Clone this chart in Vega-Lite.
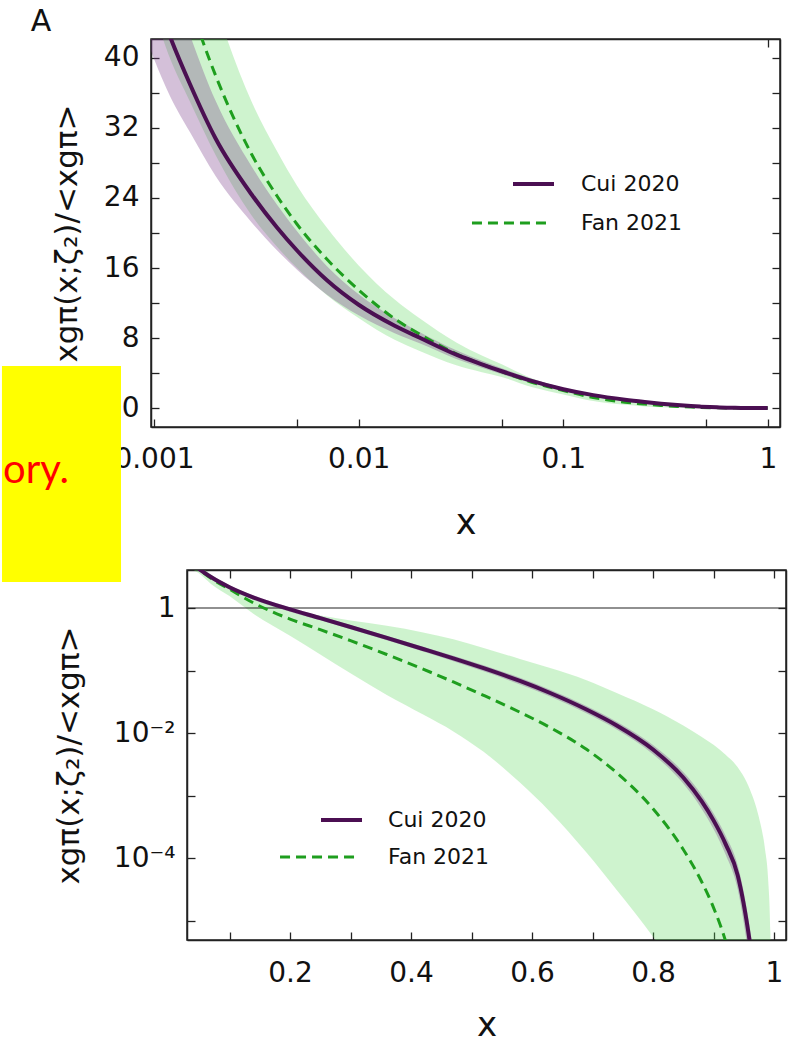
{
  "$schema": "https://vega.github.io/schema/vega-lite/v6.json",
  "padding": {"left": 0, "right": 0, "top": 6, "bottom": 0},
  "config": {
    "font": "DejaVu Sans",
    "view": {"stroke": "#222222", "strokeWidth": 1.5},
    "axis": {
      "grid": false,
      "domainColor": "#222222",
      "domainWidth": 1.5,
      "tickColor": "#222222",
      "tickWidth": 1.3,
      "tickSize": -8,
      "labelFont": "DejaVu Sans",
      "labelFontSize": 28,
      "labelColor": "#111111",
      "labelOverlap": false,
      "labelFlush": false,
      "titleFont": "DejaVu Sans",
      "titleFontWeight": "normal",
      "titleColor": "#111111"
    }
  },
  "datasets": {
    "curves": [
      {"x": 0.0009, "cui": 51, "cui_lo": 42.8, "cui_hi": 59.2, "fan": 63.5, "fan_lo": 48.3, "fan_hi": 76.8},
      {"x": 0.001, "cui": 47.5, "cui_lo": 39.9, "cui_hi": 55.1, "fan": 59.5, "fan_lo": 45.2, "fan_hi": 72},
      {"x": 0.0012, "cui": 42.4, "cui_lo": 35.6, "cui_hi": 49.2, "fan": 52.5, "fan_lo": 39.9, "fan_hi": 63.5},
      {"x": 0.0015, "cui": 37, "cui_lo": 31.5, "cui_hi": 42.6, "fan": 46, "fan_lo": 35, "fan_hi": 55.7},
      {"x": 0.002, "cui": 30.8, "cui_lo": 26.5, "cui_hi": 35.1, "fan": 38, "fan_lo": 28.9, "fan_hi": 46},
      {"x": 0.003, "cui": 24.4, "cui_lo": 21.2, "cui_hi": 27.6, "fan": 29, "fan_lo": 22, "fan_hi": 35},
      {"x": 0.004, "cui": 20.6, "cui_lo": 18, "cui_hi": 23.2, "fan": 24.2, "fan_lo": 18.4, "fan_hi": 29.3},
      {"x": 0.005, "cui": 18, "cui_lo": 15.8, "cui_hi": 20.2, "fan": 21, "fan_lo": 16, "fan_hi": 25.4},
      {"x": 0.007, "cui": 14.6, "cui_lo": 12.95, "cui_hi": 16.2, "fan": 17, "fan_lo": 12.9, "fan_hi": 20.6},
      {"x": 0.01, "cui": 11.8, "cui_lo": 10.6, "cui_hi": 13, "fan": 13.5, "fan_lo": 10.3, "fan_hi": 16.3},
      {"x": 0.015, "cui": 9.4, "cui_lo": 8.55, "cui_hi": 10.25, "fan": 10.2, "fan_lo": 7.8, "fan_hi": 12.4},
      {"x": 0.02, "cui": 8, "cui_lo": 7.36, "cui_hi": 8.64, "fan": 8.4, "fan_lo": 6.5, "fan_hi": 10.2},
      {"x": 0.03, "cui": 6.1, "cui_lo": 5.61, "cui_hi": 6.59, "fan": 6.2, "fan_lo": 4.9, "fan_hi": 7.5},
      {"x": 0.04, "cui": 5, "cui_lo": 4.6, "cui_hi": 5.4, "fan": 5, "fan_lo": 4.1, "fan_hi": 6},
      {"x": 0.05, "cui": 4.2, "cui_lo": 3.86, "cui_hi": 4.54, "fan": 4.15, "fan_lo": 3.55, "fan_hi": 5},
      {"x": 0.07, "cui": 3.1, "cui_lo": 2.85, "cui_hi": 3.35, "fan": 2.95, "fan_lo": 2.4, "fan_hi": 3.4},
      {"x": 0.1, "cui": 2.15, "cui_lo": 1.98, "cui_hi": 2.32, "fan": 2.0, "fan_lo": 1.55, "fan_hi": 2.3},
      {"x": 0.14, "cui": 1.47, "cui_lo": 1.35, "cui_hi": 1.59, "fan": 1.2, "fan_lo": 0.8, "fan_hi": 1.5},
      {"x": 0.2, "cui": 0.95, "cui_lo": 0.874, "cui_hi": 1.026, "fan": 0.665, "fan_lo": 0.359, "fan_hi": 0.94},
      {"x": 0.25, "cui": 0.689, "cui_lo": 0.634, "cui_hi": 0.744, "fan": 0.45, "fan_lo": 0.18, "fan_hi": 0.759},
      {"x": 0.3, "cui": 0.496, "cui_lo": 0.456, "cui_hi": 0.536, "fan": 0.3006, "fan_lo": 0.0902, "fan_hi": 0.631},
      {"x": 0.36, "cui": 0.332, "cui_lo": 0.305, "cui_hi": 0.359, "fan": 0.1803, "fan_lo": 0.0405, "fan_hi": 0.519},
      {"x": 0.42, "cui": 0.221, "cui_lo": 0.201, "cui_hi": 0.241, "fan": 0.1052, "fan_lo": 0.0197, "fan_hi": 0.407},
      {"x": 0.47, "cui": 0.1564, "cui_lo": 0.1408, "cui_hi": 0.172, "fan": 0.0656, "fan_lo": 0.0106, "fan_hi": 0.316},
      {"x": 0.52, "cui": 0.1089, "cui_lo": 0.0969, "cui_hi": 0.1209, "fan": 0.04, "fan_lo": 0.005, "fan_hi": 0.229},
      {"x": 0.58, "cui": 0.0681, "cui_lo": 0.0599, "cui_hi": 0.0763, "fan": 0.0215, "fan_lo": 0.00161, "fan_hi": 0.153},
      {"x": 0.63, "cui": 0.0437, "cui_lo": 0.0385, "cui_hi": 0.0494, "fan": 0.01222, "fan_lo": 0.000547, "fan_hi": 0.1096},
      {"x": 0.69, "cui": 0.0238, "cui_lo": 0.0207, "cui_hi": 0.0271, "fan": 0.00548, "fan_lo": 0.000123, "fan_hi": 0.07},
      {"x": 0.74, "cui": 0.01323, "cui_lo": 0.01138, "cui_hi": 0.01521, "fan": 0.00231, "fan_lo": 0.0000309, "fan_hi": 0.0437},
      {"x": 0.8, "cui": 0.00546, "cui_lo": 0.00459, "cui_hi": 0.00644, "fan": 0.000614, "fan_lo": 0.0000055, "fan_hi": 0.024},
      {"x": 0.85, "cui": 0.00194, "cui_lo": 0.00155, "cui_hi": 0.00237, "fan": 0.000137, "fan_lo": 0.000001, "fan_hi": 0.0132},
      {"x": 0.88, "cui": 0.000818, "cui_lo": 0.000622, "cui_hi": 0.00104, "fan": 0.0000425, "fan_lo": 1e-8, "fan_hi": 0.0087},
      {"x": 0.9, "cui": 0.0004, "cui_lo": 0.000292, "cui_hi": 0.00052, "fan": 0.0000161, "fan_lo": 1e-9, "fan_hi": 0.00646},
      {"x": 0.92, "cui": 0.000167, "cui_lo": 0.000114, "cui_hi": 0.000227, "fan": 0.00000466, "fan_lo": 1e-9, "fan_hi": 0.00447},
      {"x": 0.94, "cui": 0.0000528, "cui_lo": 0.0000317, "cui_hi": 0.0000766, "fan": 0.0000008, "fan_lo": 1e-9, "fan_hi": 0.00282},
      {"x": 0.96, "cui": 0.0000045, "cui_lo": 0.00000203, "cui_hi": 0.00000765, "fan": 3e-8, "fan_lo": 1e-9, "fan_hi": 0.00126},
      {"x": 0.975, "cui": 3e-7, "cui_lo": 1.5e-7, "cui_hi": 4.8e-7, "fan": 1e-9, "fan_lo": 1e-10, "fan_hi": 0.000447},
      {"x": 0.985, "cui": 1e-9, "cui_lo": 1e-9, "cui_hi": 1e-9, "fan": 1e-10, "fan_lo": 1e-10, "fan_hi": 0.000141},
      {"x": 0.99, "cui": 1e-10, "cui_lo": 1e-10, "cui_hi": 1e-10, "fan": 1e-11, "fan_lo": 1e-11, "fan_hi": 0.00005},
      {"x": 0.994, "cui": 1e-11, "cui_lo": 1e-11, "cui_hi": 1e-11, "fan": 1e-12, "fan_lo": 1e-12, "fan_hi": 0.0000063},
      {"x": 0.997, "cui": 1e-12, "cui_lo": 1e-12, "cui_hi": 1e-12, "fan": 1e-12, "fan_lo": 1e-12, "fan_hi": 1e-8}
    ],
    "gap": [{"label": ""}]
  },
  "concat": [
    {
      "spacing": 0,
      "hconcat": [
        {
          "width": 1,
          "height": 1,
          "view": {"stroke": null},
          "data": {"name": "gap"},
          "mark": {"type": "text", "fontSize": 1},
          "encoding": {"text": {"field": "label"}}
        },
        {
          "width": 629,
          "height": 388,
          "resolve": {"axis": {"x": "independent", "y": "independent"}},
          "layer": [
            {
              "data": {"name": "curves"},
              "mark": {"type": "area", "clip": true, "fill": "#5cd65c", "fillOpacity": 0.3, "interpolate": "monotone"},
              "encoding": {
                "x": {"field": "x", "type": "quantitative",
                  "scale": {"type": "log", "domain": [0.000967, 1.1445], "nice": false},
                  "axis": {"values": [0.001, 0.005, 0.01, 0.05, 0.1, 0.5, 1],
                    "labelExpr": "datum.value === 0.001 ? '0.001' : datum.value === 0.01 ? '0.01' : datum.value === 0.1 ? '0.1' : datum.value === 1 ? '1' : ''",
                    "labelPadding": 26, "title": "x", "titleFontSize": 35, "titleY": 106, "titleBaseline": "alphabetic"}},
                "y": {"field": "fan_hi", "type": "quantitative",
                  "scale": {"domain": [-2.17, 42.17], "nice": false, "zero": false},
                  "axis": {"values": [0, 4, 8, 12, 16, 20, 24, 28, 32, 36, 40],
                    "labelExpr": "datum.value % 8 === 0 ? datum.label : ''",
                    "labelPadding": 20, "title": "xgπ(x;ζ₂)/<xgπ>", "titleFontSize": 31, "titleX": -84, "titleBaseline": "middle"}},
                "y2": {"field": "fan_lo"}
              }
            },
            {
              "data": {"name": "curves"},
              "mark": {"type": "area", "clip": true, "fill": "#7a3a8a", "fillOpacity": 0.32, "interpolate": "monotone"},
              "encoding": {
                "x": {"field": "x", "type": "quantitative", "scale": {"type": "log", "domain": [0.000967, 1.1445], "nice": false}, "axis": null},
                "y": {"field": "cui_hi", "type": "quantitative", "scale": {"domain": [-2.17, 42.17], "nice": false, "zero": false}, "axis": null},
                "y2": {"field": "cui_lo"}
              }
            },
            {
              "data": {"name": "curves"},
              "mark": {"type": "line", "clip": true, "color": "#1e9e1e", "strokeWidth": 3, "strokeDash": [10, 6], "interpolate": "monotone"},
              "encoding": {
                "x": {"field": "x", "type": "quantitative", "scale": {"type": "log", "domain": [0.000967, 1.1445], "nice": false},
                  "axis": {"orient": "top", "values": [1], "labels": false, "title": null}},
                "y": {"field": "fan", "type": "quantitative", "scale": {"domain": [-2.17, 42.17], "nice": false, "zero": false},
                  "axis": {"orient": "right", "values": [0, 4, 8, 12, 16, 20, 24, 28, 32, 36, 40], "labels": false, "title": null}}
              }
            },
            {
              "data": {"name": "curves"},
              "mark": {"type": "line", "clip": true, "color": "#4b0f52", "strokeWidth": 4, "interpolate": "monotone"},
              "encoding": {
                "x": {"field": "x", "type": "quantitative", "scale": {"type": "log", "domain": [0.000967, 1.1445], "nice": false}, "axis": null},
                "y": {"field": "cui", "type": "quantitative", "scale": {"domain": [-2.17, 42.17], "nice": false, "zero": false}, "axis": null}
              }
            },
            {
              "data": {"values": [
                {"series": "Cui 2020", "x1": 0.05676, "x2": 0.09001, "y": 25.6},
                {"series": "Fan 2021", "x1": 0.03578, "x2": 0.08511, "y": 21.14}
              ]},
              "mark": {"type": "rule"},
              "encoding": {
                "x": {"field": "x1", "type": "quantitative", "scale": {"type": "log", "domain": [0.000967, 1.1445], "nice": false}, "axis": null},
                "x2": {"field": "x2"},
                "y": {"field": "y", "type": "quantitative", "scale": {"domain": [-2.17, 42.17], "nice": false, "zero": false}, "axis": null},
                "color": {"field": "series", "type": "nominal", "scale": {"domain": ["Cui 2020", "Fan 2021"], "range": ["#4b0f52", "#1e9e1e"]}, "legend": null},
                "strokeDash": {"field": "series", "type": "nominal", "scale": {"domain": ["Cui 2020", "Fan 2021"], "range": [[1, 0], [10, 6]]}, "legend": null},
                "strokeWidth": {"field": "series", "type": "nominal", "scale": {"domain": ["Cui 2020", "Fan 2021"], "range": [4, 3]}, "legend": null}
              }
            },
            {
              "data": {"values": [
                {"series": "Cui 2020", "x": 0.122, "y": 25.6},
                {"series": "Fan 2021", "x": 0.122, "y": 21.14}
              ]},
              "mark": {"type": "text", "align": "left", "baseline": "middle", "fontSize": 22, "color": "#111111", "font": "DejaVu Sans"},
              "encoding": {
                "x": {"field": "x", "type": "quantitative", "scale": {"type": "log", "domain": [0.000967, 1.1445], "nice": false}, "axis": null},
                "y": {"field": "y", "type": "quantitative", "scale": {"domain": [-2.17, 42.17], "nice": false, "zero": false}, "axis": null},
                "text": {"field": "series"}
              }
            },
            {
              "data": {"values": [{"x1": 0.0001808, "x2": 0.00069, "y1": 4.8, "y2": -16.571}]},
              "mark": {"type": "rect", "fill": "#ffff00"},
              "encoding": {
                "x": {"field": "x1", "type": "quantitative", "scale": {"type": "log", "domain": [0.000967, 1.1445], "nice": false}, "axis": null},
                "x2": {"field": "x2"},
                "y": {"field": "y1", "type": "quantitative", "scale": {"domain": [-2.17, 42.17], "nice": false, "zero": false}, "axis": null},
                "y2": {"field": "y2"}
              }
            },
            {
              "data": {"values": [{"x": 0.0003843, "y": -8.571, "note": "ory."}]},
              "mark": {"type": "text", "align": "right", "baseline": "alphabetic", "fontSize": 40, "font": "Lato", "color": "#ff0000"},
              "encoding": {
                "x": {"field": "x", "type": "quantitative", "scale": {"type": "log", "domain": [0.000967, 1.1445], "nice": false}, "axis": null},
                "y": {"field": "y", "type": "quantitative", "scale": {"domain": [-2.17, 42.17], "nice": false, "zero": false}, "axis": null},
                "text": {"field": "note"}
              }
            },
            {
              "data": {"values": [{"x": 0.0002805, "y": 44.11, "panel": "A"}]},
              "mark": {"type": "text", "align": "center", "baseline": "middle", "fontSize": 30, "font": "DejaVu Sans", "color": "#111111"},
              "encoding": {
                "x": {"field": "x", "type": "quantitative", "scale": {"type": "log", "domain": [0.000967, 1.1445], "nice": false}, "axis": null},
                "y": {"field": "y", "type": "quantitative", "scale": {"domain": [-2.17, 42.17], "nice": false, "zero": false}, "axis": null},
                "text": {"field": "panel"}
              }
            }
          ]
        }
      ]
    },
    {
      "spacing": 0,
      "hconcat": [
        {
          "width": 1,
          "height": 1,
          "view": {"stroke": null},
          "data": {"name": "gap"},
          "mark": {"type": "text", "fontSize": 1},
          "encoding": {"text": {"field": "label"}}
        },
        {
          "width": 599,
          "height": 370,
          "resolve": {"axis": {"x": "independent", "y": "independent"}},
          "layer": [
            {
              "data": {"name": "curves"},
              "transform": [{"filter": "datum.x >= 0.02"}],
              "mark": {"type": "area", "clip": true, "fill": "#5cd65c", "fillOpacity": 0.3, "interpolate": "monotone"},
              "encoding": {
                "x": {"field": "x", "type": "quantitative",
                  "scale": {"domain": [0.02975, 1.0198], "nice": false, "zero": false},
                  "axis": {"values": [0.1, 0.2, 0.3, 0.4, 0.5, 0.6, 0.7, 0.8, 0.9, 1],
                    "labelExpr": "datum.value === 0.2 ? '0.2' : datum.value === 0.4 ? '0.4' : datum.value === 0.6 ? '0.6' : datum.value === 0.8 ? '0.8' : datum.value === 1 ? '1' : ''",
                    "labelPadding": 27, "title": "x", "titleFontSize": 34, "titleY": 95, "titleBaseline": "alphabetic"}},
                "y": {"field": "fan_hi", "type": "quantitative",
                  "scale": {"type": "log", "domain": [0.00000488, 4.055], "nice": false},
                  "axis": {"values": [1, 0.1, 0.01, 0.001, 0.0001, 0.00001],
                    "labelExpr": "datum.value === 1 ? '1' : datum.value === 0.01 ? '10⁻²' : datum.value === 0.0001 ? '10⁻⁴' : ''",
                    "labelPadding": 20, "title": "xgπ(x;ζ₂)/<xgπ>", "titleFontSize": 31, "titleX": -118, "titleBaseline": "middle"}},
                "y2": {"field": "fan_lo"}
              }
            },
            {
              "data": {"name": "curves"},
              "transform": [{"filter": "datum.x >= 0.02"}],
              "mark": {"type": "area", "clip": true, "fill": "#7a3a8a", "fillOpacity": 0.32, "interpolate": "monotone"},
              "encoding": {
                "x": {"field": "x", "type": "quantitative", "scale": {"domain": [0.02975, 1.0198], "nice": false, "zero": false}, "axis": null},
                "y": {"field": "cui_hi", "type": "quantitative", "scale": {"type": "log", "domain": [0.00000488, 4.055], "nice": false}, "axis": null},
                "y2": {"field": "cui_lo"}
              }
            },
            {
              "data": {"values": [{"level": 1}]},
              "mark": {"type": "rule", "color": "#222222", "strokeWidth": 1.2},
              "encoding": {
                "y": {"field": "level", "type": "quantitative", "scale": {"type": "log", "domain": [0.00000488, 4.055], "nice": false}, "axis": null}
              }
            },
            {
              "data": {"name": "curves"},
              "transform": [{"filter": "datum.x >= 0.02"}],
              "mark": {"type": "line", "clip": true, "color": "#1e9e1e", "strokeWidth": 3, "strokeDash": [10, 6], "interpolate": "monotone"},
              "encoding": {
                "x": {"field": "x", "type": "quantitative", "scale": {"domain": [0.02975, 1.0198], "nice": false, "zero": false},
                  "axis": {"orient": "top", "values": [0.1, 0.2, 0.3, 0.4, 0.5, 0.6, 0.7, 0.8, 0.9, 1], "labels": false, "title": null}},
                "y": {"field": "fan", "type": "quantitative", "scale": {"type": "log", "domain": [0.00000488, 4.055], "nice": false},
                  "axis": {"orient": "right", "values": [1, 0.1, 0.01, 0.001, 0.0001, 0.00001], "labels": false, "title": null}}
              }
            },
            {
              "data": {"name": "curves"},
              "transform": [{"filter": "datum.x >= 0.02"}],
              "mark": {"type": "line", "clip": true, "color": "#4b0f52", "strokeWidth": 4, "interpolate": "monotone"},
              "encoding": {
                "x": {"field": "x", "type": "quantitative", "scale": {"domain": [0.02975, 1.0198], "nice": false, "zero": false}, "axis": null},
                "y": {"field": "cui", "type": "quantitative", "scale": {"type": "log", "domain": [0.00000488, 4.055], "nice": false}, "axis": null}
              }
            },
            {
              "data": {"values": [
                {"series": "Cui 2020", "x1": 0.2512, "x2": 0.319, "y": 0.0004055},
                {"series": "Fan 2021", "x1": 0.1835, "x2": 0.3124, "y": 0.0001038}
              ]},
              "mark": {"type": "rule"},
              "encoding": {
                "x": {"field": "x1", "type": "quantitative", "scale": {"domain": [0.02975, 1.0198], "nice": false, "zero": false}, "axis": null},
                "x2": {"field": "x2"},
                "y": {"field": "y", "type": "quantitative", "scale": {"type": "log", "domain": [0.00000488, 4.055], "nice": false}, "axis": null},
                "color": {"field": "series", "type": "nominal", "scale": {"domain": ["Cui 2020", "Fan 2021"], "range": ["#4b0f52", "#1e9e1e"]}, "legend": null},
                "strokeDash": {"field": "series", "type": "nominal", "scale": {"domain": ["Cui 2020", "Fan 2021"], "range": [[1, 0], [10, 6]]}, "legend": null},
                "strokeWidth": {"field": "series", "type": "nominal", "scale": {"domain": ["Cui 2020", "Fan 2021"], "range": [4, 3]}, "legend": null}
              }
            },
            {
              "data": {"values": [
                {"series": "Cui 2020", "x": 0.362, "y": 0.0004055},
                {"series": "Fan 2021", "x": 0.362, "y": 0.0001038}
              ]},
              "mark": {"type": "text", "align": "left", "baseline": "middle", "fontSize": 22, "color": "#111111", "font": "DejaVu Sans"},
              "encoding": {
                "x": {"field": "x", "type": "quantitative", "scale": {"domain": [0.02975, 1.0198], "nice": false, "zero": false}, "axis": null},
                "y": {"field": "y", "type": "quantitative", "scale": {"type": "log", "domain": [0.00000488, 4.055], "nice": false}, "axis": null},
                "text": {"field": "series"}
              }
            },
            {
              "data": {"values": [{"x1": -0.276, "x2": -0.0793, "y1": 7.586, "y2": 2.606}]},
              "mark": {"type": "rect", "fill": "#ffff00"},
              "encoding": {
                "x": {"field": "x1", "type": "quantitative", "scale": {"domain": [0.02975, 1.0198], "nice": false, "zero": false}, "axis": null},
                "x2": {"field": "x2"},
                "y": {"field": "y1", "type": "quantitative", "scale": {"type": "log", "domain": [0.00000488, 4.055], "nice": false}, "axis": null},
                "y2": {"field": "y2"}
              }
            }
          ]
        }
      ]
    }
  ],
  "columns": 1,
  "bounds": "full",
  "spacing": -2
}
